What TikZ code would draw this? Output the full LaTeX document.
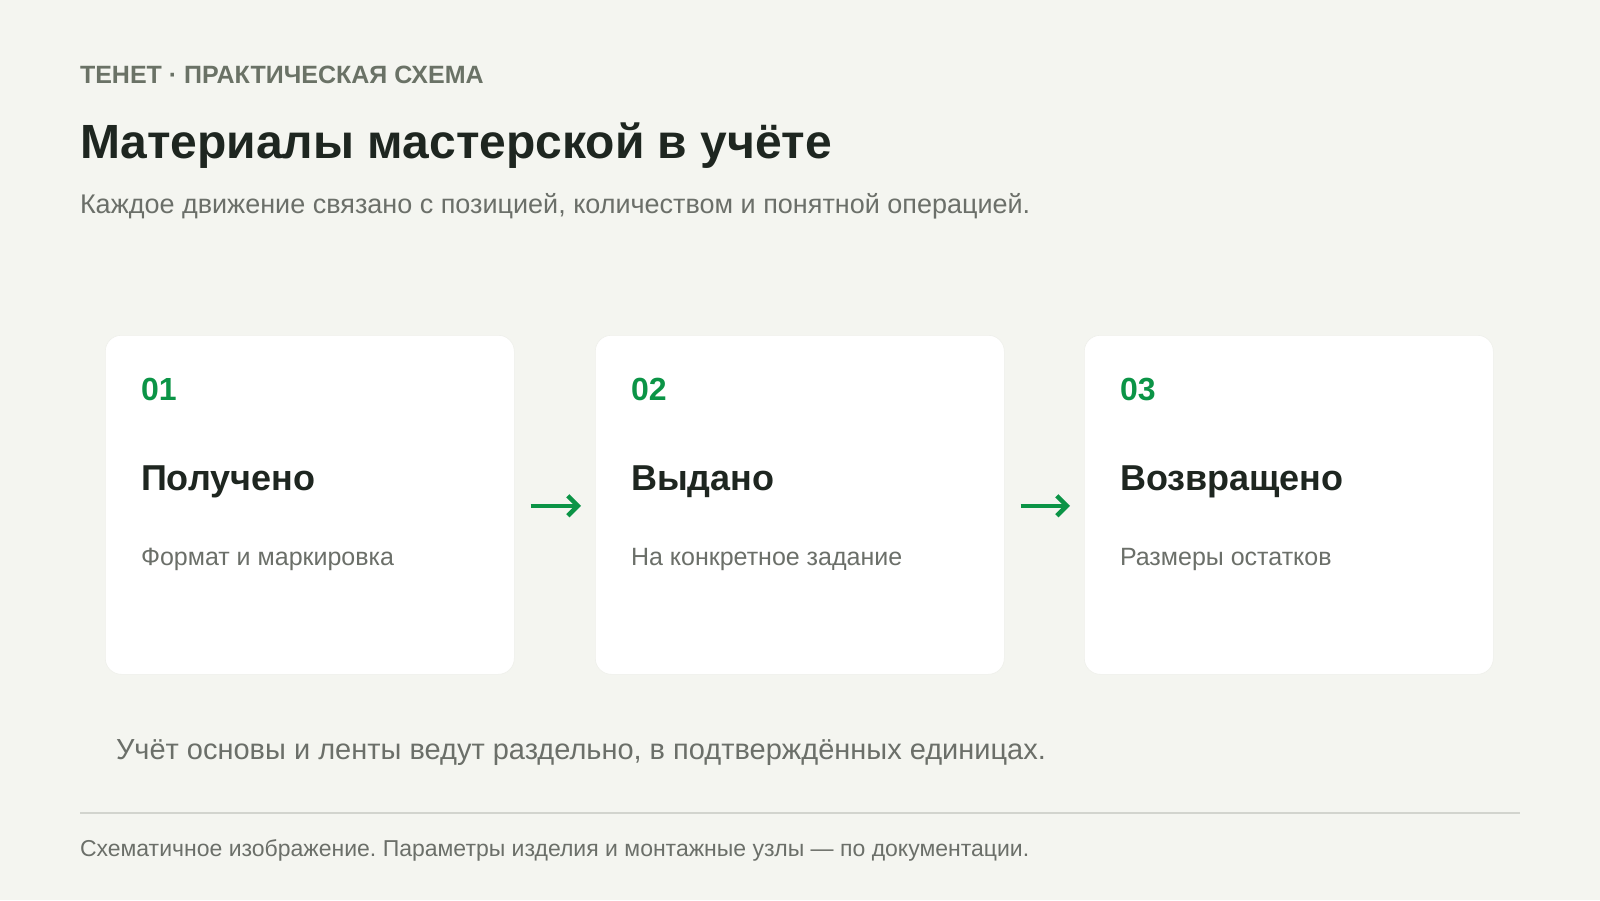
\documentclass[tikz,border=0pt]{standalone}
\usepackage{fontspec}
\setmainfont{Liberation Sans}
\usetikzlibrary{arrows.meta}
\frenchspacing
\definecolor{bg}{HTML}{F4F5F0}
\definecolor{ink}{HTML}{1E2620}
\definecolor{muted}{HTML}{6B6F69}
\definecolor{kicker}{HTML}{6A7266}
\definecolor{accent}{HTML}{0B9446}
\definecolor{rule}{HTML}{D2D4CE}
\definecolor{cardedge}{HTML}{EFF0EB}
\tikzset{
  txt/.style={anchor=base west, inner sep=0pt, outer sep=0pt},
  card/.style={draw=cardedge, line width=0.6pt, fill=white, rounded corners=16pt,
    minimum width=409pt, minimum height=339pt, anchor=north west, inner sep=0pt},
  num/.style={txt, text=accent, font=\fontsize{32}{36}\selectfont\bfseries},
  ctitle/.style={txt, text=ink, font=\fontsize{36}{40}\selectfont\bfseries},
  csub/.style={txt, text=muted, font=\fontsize{25}{28}\selectfont},
  flow/.style={draw=accent, line width=4pt, -{Straight Barb[length=10pt,width=20pt,line width=4.5pt]},
    shorten <=16pt, shorten >=14pt}
}
\begin{document}
\begin{tikzpicture}[x=1pt,y=-1pt]
\fill[bg] (0,0) rectangle (1600,900);
\useasboundingbox (0,0) rectangle (1600,900);

\node[txt, text=kicker, font=\fontsize{25}{28}\selectfont\bfseries] (kick) at (80,83) {ТЕНЕТ · ПРАКТИЧЕСКАЯ СХЕМА};
\node[txt, text=ink, font=\fontsize{48}{54}\selectfont\bfseries] (title) at (80,158) {Материалы мастерской в учёте};
\node[txt, text=muted, font=\fontsize{27}{30}\selectfont] (subtitle) at (80,213) {Каждое движение связано с позицией, количеством и понятной операцией.};

\node[card] (c1) at (105,335) {};
\node[card] (c2) at (595,335) {};
\node[card] (c3) at (1084,335) {};

\node[num] (n1) at ([xshift=36pt,yshift=-65pt]c1.north west) {01};
\node[ctitle] (t1) at ([xshift=36pt,yshift=-155pt]c1.north west) {Получено};
\node[csub] (s1) at ([xshift=36pt,yshift=-230pt]c1.north west) {Формат и маркировка};

\node[num] (n2) at ([xshift=36pt,yshift=-65pt]c2.north west) {02};
\node[ctitle] (t2) at ([xshift=36pt,yshift=-155pt]c2.north west) {Выдано};
\node[csub] (s2) at ([xshift=36pt,yshift=-230pt]c2.north west) {На конкретное задание};

\node[num] (n3) at ([xshift=36pt,yshift=-65pt]c3.north west) {03};
\node[ctitle] (t3) at ([xshift=36pt,yshift=-155pt]c3.north west) {Возвращено};
\node[csub] (s3) at ([xshift=36pt,yshift=-230pt]c3.north west) {Размеры остатков};

\draw[flow] ([yshift=-1pt]c1.east) -- ([yshift=-1pt]c2.west);
\draw[flow] ([yshift=-1pt]c2.east) -- ([yshift=-1pt]c3.west);

\node[txt, text=muted, font=\fontsize{29}{32}\selectfont] (note) at (116,759) {Учёт основы и ленты ведут раздельно, в подтверждённых единицах.};

\coordinate (r1) at (80,813);
\coordinate (r2) at (1520,813);
\draw[rule, line width=2pt] (r1) -- (r2);

\node[txt, text=muted, font=\fontsize{23}{26}\selectfont] (foot) at (80,856) {Схематичное изображение. Параметры изделия и монтажные узлы — по документации.};
\end{tikzpicture}
\end{document}
